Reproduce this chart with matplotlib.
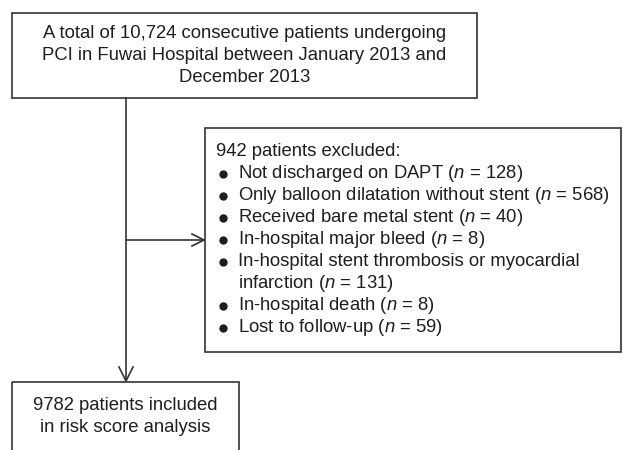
import matplotlib
matplotlib.use("Agg")
import matplotlib.pyplot as plt
from matplotlib.patches import Rectangle

plt.rcParams['font.family'] = ['Liberation Sans', 'DejaVu Sans']
plt.rcParams['mathtext.fontset'] = 'custom'
plt.rcParams['mathtext.rm'] = 'Liberation Sans'
plt.rcParams['mathtext.it'] = 'Liberation Sans:italic'

top_text = ["A total of 10,724 consecutive patients undergoing",
            "PCI in Fuwai Hospital between January 2013 and",
            "December 2013"]
excl_header = "942 patients excluded:"
excl_items = ["Not discharged on DAPT ($n$ = 128)",
              "Only balloon dilatation without stent ($n$ = 568)",
              "Received bare metal stent ($n$ = 40)",
              "In-hospital major bleed ($n$ = 8)",
              "In-hospital stent thrombosis or myocardial\ninfarction ($n$ = 131)",
              "In-hospital death ($n$ = 8)",
              "Lost to follow-up ($n$ = 59)"]
bottom_text = ["9782 patients included", "in risk score analysis"]

W, H = 623, 450
fig = plt.figure(figsize=(W / 100, H / 100), dpi=100)
ax = fig.add_axes([0, 0, 1, 1])
ax.set_xlim(0, W)
ax.set_ylim(H, 0)
ax.axis('off')

lc = '#333333'
tc = '#1e1e1e'
lw = 1.2
fs = 13.3
lh = 22.0

# top box
ax.add_patch(Rectangle((12, 13), 465, 85, fill=False, ec=lc, lw=lw))
for i, t in enumerate(top_text):
    ax.text(244.5, 33 + i * lh, t, ha='center', va='center', fontsize=fs, color=tc)

# right box
rx, ry = 205, 128
ax.add_patch(Rectangle((rx, ry), 416, 224, fill=False, ec=lc, lw=lw))
ax.text(216, 152, excl_header, ha='left', va='center', fontsize=fs, color=tc)
y = 152 + lh
arrow_y = None
for i, t in enumerate(excl_items):
    lines = t.split('\n')
    ax.plot([223], [y], 'o', ms=5, color=tc)
    if i == 3:
        arrow_y = y
    for ln in lines:
        ax.text(238, y, ln, ha='left', va='center', fontsize=fs, color=tc)
        y += lh

# bottom box (extends beyond lower image edge)
ax.add_patch(Rectangle((12, 382), 227, 80, fill=False, ec=lc, lw=lw))
for i, t in enumerate(bottom_text):
    ax.text(125.5, 406 + i * lh, t, ha='center', va='center', fontsize=fs, color=tc)

# connectors
vx = 126
ax.plot([vx, vx], [98, 381], color=lc, lw=lw)
ax.plot([vx - 7, vx, vx + 7], [367, 381, 367], color=lc, lw=lw)
ax.plot([vx, rx - 1], [arrow_y, arrow_y], color=lc, lw=lw)
ax.plot([rx - 13, rx - 1, rx - 13], [arrow_y - 6, arrow_y, arrow_y + 6], color=lc, lw=lw)

fig.savefig('out.png', dpi=100)
